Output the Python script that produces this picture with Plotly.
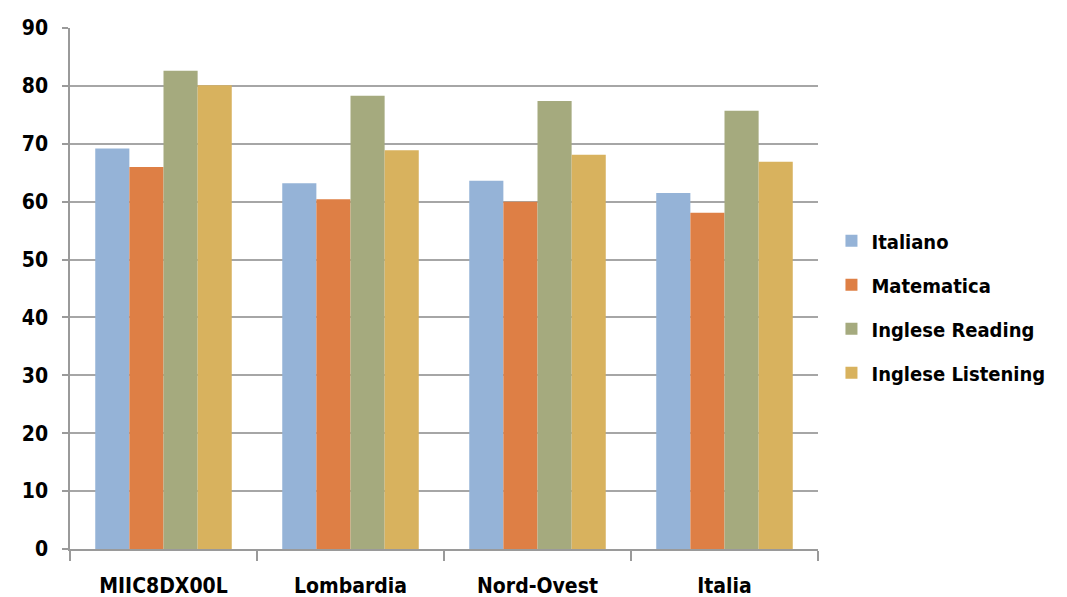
import plotly.graph_objects as go

categories = ["MIIC8DX00L", "Lombardia", "Nord-Ovest", "Italia"]
italiano = [69.2, 63.2, 63.6, 61.5]
matematica = [66.0, 60.4, 60.0, 58.1]
inglese_reading = [82.6, 78.3, 77.4, 75.7]
inglese_listening = [80.1, 68.9, 68.1, 66.9]
y_ticks = [0, 10, 20, 30, 40, 50, 60, 70, 80, 90]

series = [
    ("Italiano", italiano, "#95B3D7"),
    ("Matematica", matematica, "#DE7F45"),
    ("Inglese Reading", inglese_reading, "#A5AA7E"),
    ("Inglese Listening", inglese_listening, "#D8B25E"),
]

FONT = "DejaVu Sans Condensed"

fig = go.Figure()
for i, (name, vals, color) in enumerate(series):
    fig.add_trace(go.Bar(
        x=categories, y=vals, name=name, legendgroup=name,
        marker=dict(color=color, line=dict(width=0)),
    ))

fig.update_layout(
    width=1067, height=597,
    margin=dict(l=70, r=249, t=28, b=48),
    paper_bgcolor="white", plot_bgcolor="white",
    barmode="group", bargap=0.27, bargroupgap=0,
    font=dict(family=FONT, size=21, color="black", weight="bold"),
    legend=dict(
        x=1.018, xanchor="left", y=0.465, yanchor="middle",
        font=dict(size=20, weight="bold"), tracegroupgap=15,
        itemwidth=30, bgcolor="rgba(0,0,0,0)",
    ),
    xaxis=dict(
        automargin=False,
        showline=True, linecolor="#9a9a9a", linewidth=1.5,
        ticks="outside", tickson="boundaries", ticklen=10,
        tickcolor="#9a9a9a", tickwidth=1.5,
        showgrid=False, ticklabelstandoff=17,
        tickfont=dict(size=21, weight="bold"),
    ),
    yaxis=dict(
        automargin=False,
        range=[0, 90], tickvals=y_ticks,
        showline=True, linecolor="#9a9a9a", linewidth=1.5,
        ticks="outside", ticklen=6, tickcolor="#9a9a9a", tickwidth=1.5,
        showgrid=True, gridcolor="#a6a6a6", gridwidth=1.5,
        zeroline=False, ticklabelstandoff=10,
        tickfont=dict(size=21, weight="bold"),
    ),
)

fig.write_html("out.html")
